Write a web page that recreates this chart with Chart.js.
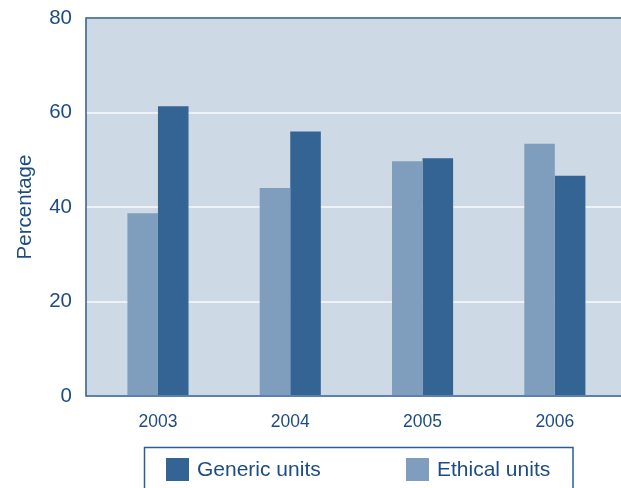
<!DOCTYPE html>
<html><head><meta charset="utf-8">
<script src="https://cdn.jsdelivr.net/npm/chart.js@4"></script>
<style>html,body{margin:0;padding:0;background:#fff;overflow:hidden}#wrap{width:621px;height:488px;position:relative}</style>
</head><body><div id="wrap"><canvas id="c" width="621" height="488"></canvas></div>
<script>
const years = ['2003', '2004', '2005', '2006'];
const ethicalUnits = [38.7, 44.0, 49.7, 53.4];
const genericUnits = [61.3, 56.0, 50.3, 46.6];
const yTickValues = [0, 20, 40, 60, 80];
const legendOrder = ['Generic units', 'Ethical units'];

const TEXT = '#1d4c84';
const BORDER = '#2a5d94';
const DARK = '#336494';
const LIGHT = '#7f9ebd';
const BG = '#cdd9e4';
const FONT = '"Liberation Sans", Arial, Helvetica, sans-serif';

const colorFor = { 'Generic units': DARK, 'Ethical units': LIGHT };

const plotPlugin = {
  id: 'plotDecor',
  beforeDraw(chart) {
    const { ctx, chartArea: a } = chart;
    ctx.save();
    ctx.fillStyle = BG;
    ctx.fillRect(a.left, a.top, a.right - a.left, a.bottom - a.top);
    ctx.restore();
  },
  afterDatasetsDraw(chart) {
    const { ctx, chartArea: a } = chart;
    ctx.save();
    ctx.strokeStyle = BORDER;
    ctx.lineWidth = 1.5;
    ctx.beginPath();
    ctx.moveTo(a.right, a.top);
    ctx.lineTo(a.left, a.top);
    ctx.lineTo(a.left, a.bottom);
    ctx.lineTo(a.right, a.bottom);
    ctx.stroke();
    ctx.restore();
  },
  afterDraw(chart) {
    const { ctx } = chart;
    ctx.save();
    ctx.strokeStyle = BORDER;
    ctx.lineWidth = 1.5;
    ctx.strokeRect(144.5, 447.5, 428.5, 80);
    const items = [
      { label: legendOrder[0], x: 166 },
      { label: legendOrder[1], x: 406 }
    ];
    ctx.font = '21px ' + FONT;
    ctx.textBaseline = 'middle';
    ctx.textAlign = 'left';
    items.forEach(it => {
      ctx.fillStyle = colorFor[it.label];
      ctx.fillRect(it.x, 458, 23, 23);
      ctx.fillStyle = TEXT;
      ctx.fillText(it.label, it.x + 31, 470);
    });
    ctx.restore();
  }
};

new Chart(document.getElementById('c'), {
  type: 'bar',
  data: {
    datasets: [
      {
        label: 'Ethical units',
        data: ethicalUnits.map((v, i) => ({ x: i, y: v })),
        backgroundColor: LIGHT,
        borderWidth: 0,
        categoryPercentage: 0.462,
        barPercentage: 1.0
      },
      {
        label: 'Generic units',
        data: genericUnits.map((v, i) => ({ x: i, y: v })),
        backgroundColor: DARK,
        borderWidth: 0,
        categoryPercentage: 0.462,
        barPercentage: 1.0
      }
    ]
  },
  options: {
    responsive: false,
    devicePixelRatio: 1,
    animation: false,
    layout: { padding: { top: 18, right: 0, bottom: 52, left: 0 } },
    plugins: { legend: { display: false }, tooltip: { enabled: false } },
    scales: {
      x: {
        type: 'linear',
        offset: false,
        min: -0.544,
        max: 3.5,
        grid: { display: false, drawTicks: false, offset: false },
        border: { display: false },
        afterBuildTicks: (s) => { s.ticks = years.map((y, i) => ({ value: i })); },
        afterFit: (s) => { s.height = 40; },
        ticks: {
          color: TEXT,
          font: { family: FONT, size: 17.5 },
          padding: 16,
          maxRotation: 0,
          autoSkip: false,
          callback: (v) => years[v]
        }
      },
      y: {
        min: 0,
        max: 80,
        afterBuildTicks: (s) => { s.ticks = yTickValues.map(v => ({ value: v })); },
        afterFit: (s) => { s.width = 86; },
        grid: { color: '#eef2f6', lineWidth: 2, drawTicks: false },
        border: { display: false },
        ticks: {
          color: TEXT,
          font: { family: FONT, size: 20.5, lineHeight: 0.3 },
          padding: 14
        },
        title: {
          display: true,
          text: 'Percentage',
          color: TEXT,
          font: { family: FONT, size: 20.5 },
          padding: { top: 12.7, bottom: 0 }
        }
      }
    }
  },
  plugins: [plotPlugin]
});
</script>
</body></html>
